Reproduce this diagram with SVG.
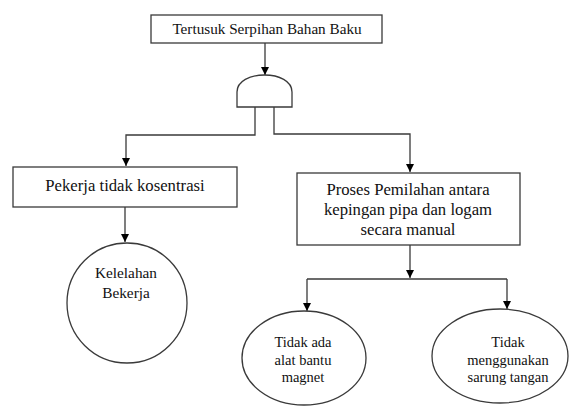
<svg xmlns="http://www.w3.org/2000/svg" width="570" height="412" viewBox="0 0 570 412">
<defs>
<marker id="arr" viewBox="0 0 10 10" refX="10" refY="5" markerWidth="8" markerHeight="8" markerUnits="userSpaceOnUse" orient="auto">
<path d="M0,0 L10,5 L0,10 Z" fill="#000"/>
</marker>
</defs>
<style>
.shape{fill:#fff;stroke:#3a3a3a;stroke-width:1.3}
.line{fill:none;stroke:#3a3a3a;stroke-width:1.3}
.lbl{fill:#111;text-anchor:middle}
.tTop{font-size:15.2px}
.tBox{font-size:16.7px}
.tCir{font-size:15.3px}
.tEl{font-size:14.5px}
</style>
<rect width="570" height="412" fill="#fff"/>
<g id="connectors">
<path class="line" d="M265,43 V75" marker-end="url(#arr)"/>
<path class="line" d="M255,107 V135 H126 V166" marker-end="url(#arr)"/>
<path class="line" d="M274,107 V134 H410 V172" marker-end="url(#arr)"/>
<path class="line" d="M125,207 V242" marker-end="url(#arr)"/>
<path class="line" d="M410,245 V278"  marker-end="url(#arr)"/>
<path class="line" d="M307,279 H507"/>
<path class="line" d="M307,279 V311" marker-end="url(#arr)"/>
<path class="line" d="M507,279 V309" marker-end="url(#arr)"/>
</g>
<g font-family="'Liberation Serif', 'DejaVu Serif', 'Times New Roman', serif">
<g id="top">
<rect class="shape" x="151" y="15" width="231" height="28"/>
<text class="lbl tTop" x="267" y="34">Tertusuk Serpihan Bahan Baku</text>
</g>
<g id="gate">
<path class="shape" d="M237,107 V92 C237,81 250,75 264.5,75 C279,75 292,81 292,92 V107 Z"/>
</g>
<g id="pekerja">
<rect class="shape" x="13" y="167" width="224" height="40"/>
<text class="lbl tBox" x="125" y="191">Pekerja tidak kosentrasi</text>
</g>
<g id="proses">
<rect class="shape" x="297" y="173" width="223" height="72"/>
<text class="lbl tBox" x="408" y="195">Proses Pemilahan antara</text>
<text class="lbl tBox" x="408" y="215">kepingan pipa dan logam</text>
<text class="lbl tBox" x="408" y="235">secara manual</text>
</g>
<g id="kelelahan">
<circle class="shape" cx="127" cy="303" r="60"/>
<text class="lbl tCir" x="126" y="278">Kelelahan</text>
<text class="lbl tCir" x="126" y="298">Bekerja</text>
</g>
<g id="alat">
<ellipse class="shape" cx="304" cy="358" rx="62" ry="47"/>
<text class="lbl tEl" x="303" y="347">Tidak ada</text>
<text class="lbl tEl" x="303" y="365">alat bantu</text>
<text class="lbl tEl" x="303" y="382">magnet</text>
</g>
<g id="sarung">
<ellipse class="shape" cx="500" cy="356" rx="68" ry="47"/>
<text class="lbl tEl" x="508" y="347">Tidak</text>
<text class="lbl tEl" x="508" y="365">menggunakan</text>
<text class="lbl tEl" x="508" y="382">sarung tangan</text>
</g>
</g>
</svg>
